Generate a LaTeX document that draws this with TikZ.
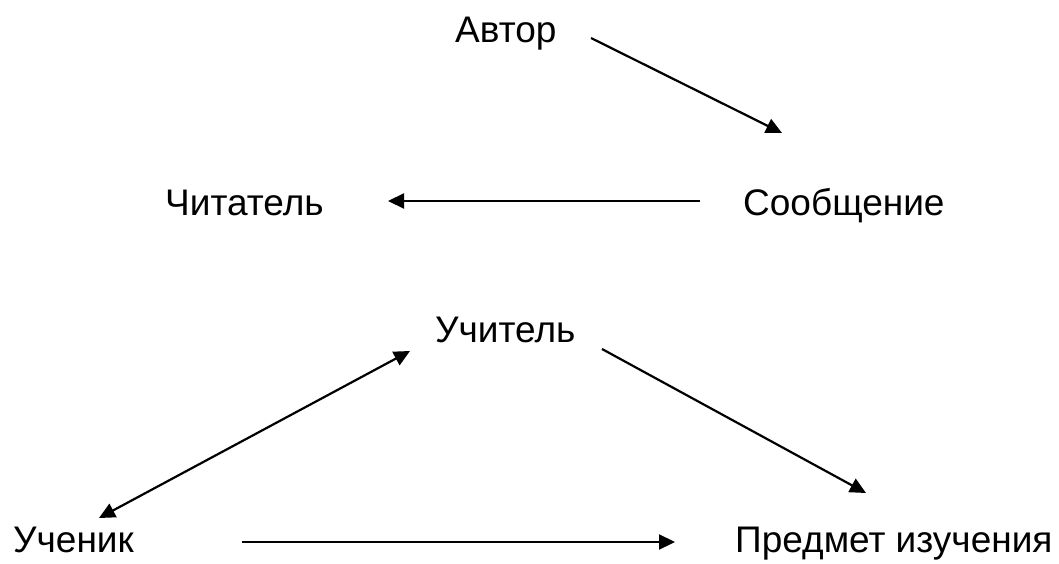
\documentclass[tikz,border=0pt]{standalone}
\usepackage{fontspec}
\setmainfont{Liberation Sans}
\usetikzlibrary{arrows.meta}
\begin{document}
\begin{tikzpicture}[x=1pt,y=1pt,
  lbl/.style={anchor=base west,inner sep=0pt,font=\fontsize{37}{42}\selectfont},
  tip/.style={Triangle[length=16pt,width=15pt]},
  conn/.style={line width=2.2pt,-{Triangle[length=16pt,width=15pt]}},
  bconn/.style={line width=2.2pt,{Triangle[length=16pt,width=15pt]}-{Triangle[length=16pt,width=15pt]}}]
\useasboundingbox (0,0) rectangle (1059,563);
\node[lbl] (avtor) at (455,520) {Автор};
\node[lbl] (chit) at (165,347) {Читатель};
\node[lbl] (soob) at (743,347) {Сообщение};
\node[lbl] (uchit) at (435,221) {Учитель};
\node[lbl] (uchen) at (13,11) {Ученик};
\node[lbl] (pred) at (735,11) {Предмет изучения};
\coordinate (a1s) at (591,525);
\coordinate (a1e) at (782,430);
\coordinate (a2s) at (700,362);
\coordinate (a2e) at (388,362);
\coordinate (a3s) at (602,214);
\coordinate (a3e) at (866,70);
\coordinate (a4s) at (99,45);
\coordinate (a4e) at (410,212);
\coordinate (a5s) at (242,21);
\coordinate (a5e) at (675,21);
\draw[conn] (a1s) -- (a1e);
\draw[conn] (a2s) -- (a2e);
\draw[conn] (a3s) -- (a3e);
\draw[bconn] (a4s) -- (a4e);
\draw[conn] (a5s) -- (a5e);
\end{tikzpicture}
\end{document}
